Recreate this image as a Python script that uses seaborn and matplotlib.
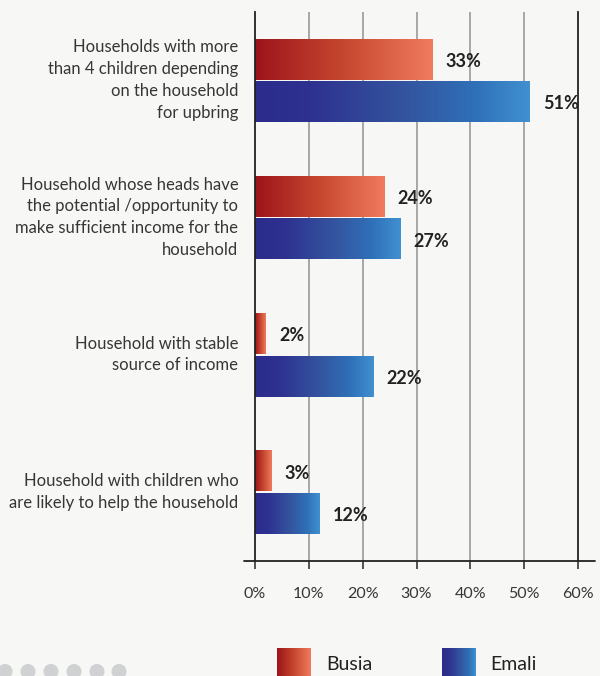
import numpy as np
import pandas as pd
import seaborn as sns
import matplotlib
matplotlib.use("Agg")
import matplotlib.pyplot as plt
from matplotlib.colors import LinearSegmentedColormap
from matplotlib.patches import Circle
from matplotlib.lines import Line2D
from matplotlib.transforms import ScaledTranslation

# ---------------- data ----------------
categories = [
    "Households with more\nthan 4 children depending\non the household\nfor upbring",
    "Household whose heads have\nthe potential /opportunity to\nmake sufficient income for the\nhousehold",
    "Household with stable\nsource of income",
    "Household with children who\nare likely to help the household",
]
series = ["Busia", "Emali"]
busia = [33, 24, 2, 3]
emali = [51, 27, 22, 12]
x_ticks = [0, 10, 20, 30, 40, 50, 60]
x_tick_labels = ["0%", "10%", "20%", "30%", "40%", "50%", "60%"]

df = pd.DataFrame({
    "category": categories * 2,
    "value": busia + emali,
    "series": [series[0]] * len(busia) + [series[1]] * len(emali),
})

# ---------------- style ----------------
sns.set_theme(style="white")
plt.rcParams["font.family"] = ["Lato", "DejaVu Sans"]

bg = "#f7f7f5"
dark = "#222222"
grid_gray = "#9a9a9a"
text_gray = "#363636"

cmaps = {
    "Busia": LinearSegmentedColormap.from_list(
        "red", [(0, "#9d141b"), (0.5, "#c6472f"), (1, "#f07b5e")]),
    "Emali": LinearSegmentedColormap.from_list(
        "blue", [(0, "#2b2c8c"), (0.2, "#2e3190"), (0.55, "#34559f"),
                 (0.8, "#2f70b8"), (1, "#4190d0")]),
}
grad = np.linspace(0, 1, 256).reshape(1, -1)

W, H = 600, 676
fig = plt.figure(figsize=(W / 100, H / 100), dpi=100, facecolor=bg)
ax = fig.add_axes([255 / W, 1 - 561 / H, (578 - 255) / W, (561 - 12) / H])
ax.set_facecolor(bg)

sns.barplot(data=df, y="category", x="value", hue="series", order=categories,
            hue_order=series, orient="h", width=0.62, gap=0.05, ax=ax,
            legend=False, palette=["#c6472f", "#34559f"], saturation=1)

# gradient fills
for name, cont in zip(series, ax.containers):
    for bar in cont:
        x, y, w, h = bar.get_x(), bar.get_y(), bar.get_width(), bar.get_height()
        ax.imshow(grad, extent=[x, x + w, y + h, y], aspect="auto",
                  cmap=cmaps[name], zorder=2, interpolation="bicubic")
        bar.set_visible(False)

# value labels
for cont in ax.containers:
    for bar in cont:
        v = bar.get_width()
        ax.annotate(f"{v:.0f}%", xy=(bar.get_x() + v, bar.get_y() + bar.get_height() / 2),
                    xytext=(9.5, -1.5), textcoords="offset points", va="center", ha="left",
                    fontsize=13, fontweight="bold", color=dark, zorder=5)

ax.set_xlim(0, 60)
ax.set_ylim(3.5, -0.5)
ax.set_xlabel("")
ax.set_ylabel("")

# grid
for v in x_ticks[1:-1]:
    ax.axvline(v, color=grid_gray, lw=1.2, zorder=0)

for s in ["top", "bottom"]:
    ax.spines[s].set_visible(False)
for s in ["left", "right"]:
    ax.spines[s].set_color(dark)
    ax.spines[s].set_linewidth(1.3)
    ax.spines[s].set_zorder(3)

fig.add_artist(Line2D([244 / W, 595 / W], [1 - 561 / H] * 2,
                      transform=fig.transFigure, color=dark, lw=1.3))

ax.set_xticks(x_ticks)
ax.set_xticklabels(x_tick_labels)
ax.tick_params(axis="x", length=5.8, width=1.1, direction="out", pad=13,
               labelsize=11.5, labelcolor=text_gray, bottom=True)
for i, t in enumerate(ax.xaxis.get_major_ticks()):
    t.tick1line.set_color(dark if i in (0, len(x_ticks) - 1) else grid_gray)

ax.tick_params(axis="y", length=0, pad=12, labelsize=12, labelcolor=text_gray, left=True)
shift_up = ScaledTranslation(0, 5 / 100, fig.dpi_scale_trans)
for lbl in ax.get_yticklabels():
    lbl.set_linespacing(1.45)
    lbl.set_transform(lbl.get_transform() + shift_up)

# legend
for name, sx, tx in [("Busia", 277, 326), ("Emali", 442, 490)]:
    lax = fig.add_axes([sx / W, 1 - (648 + 33) / H, 33 / W, 33 / H])
    lax.imshow(grad, aspect="auto", cmap=cmaps[name], extent=[0, 1, 0, 1],
               interpolation="bicubic")
    lax.axis("off")
    fig.text(tx / W, 1 - 664 / H, name, va="center", ha="left",
             fontsize=14, color=dark)

# decorative dots
for cx in [5, 28, 51, 74, 97, 119]:
    fig.add_artist(Circle((cx / 100, (H - 671.5) / 100), 7.5 / 100,
                          transform=fig.dpi_scale_trans, color="#d0d1d3", lw=0))

fig.savefig("out.png", dpi=100, facecolor=bg)
